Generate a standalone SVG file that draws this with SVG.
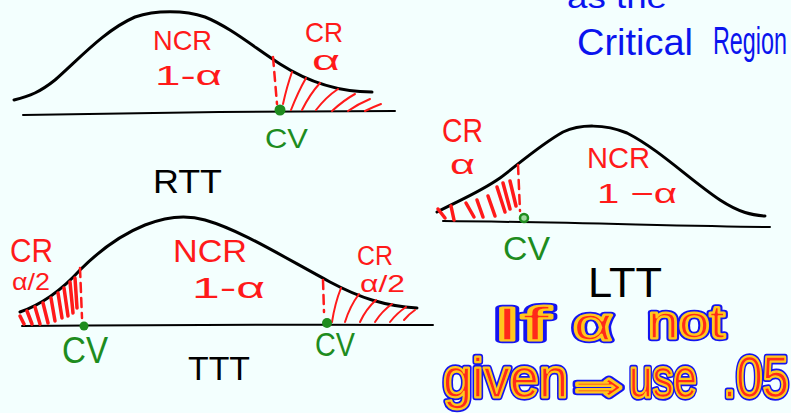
<svg xmlns="http://www.w3.org/2000/svg" width="791" height="413" viewBox="0 0 791 413">
<style>
.bg{fill:#F3FFFE}
.curve{fill:none;stroke:#000;stroke-width:3;stroke-linecap:round;stroke-linejoin:round}
.base{fill:none;stroke:#000;stroke-width:2;stroke-linecap:round}
.hatch{fill:none;stroke:#FF1A1A;stroke-width:2;stroke-linecap:round}
.hatchT{fill:none;stroke:#FF1A1A;stroke-width:3.5;stroke-linecap:round}
.dash{fill:none;stroke:#FF1A1A;stroke-width:2.5;stroke-dasharray:9 6;stroke-linecap:round}
.dot{fill:#1E8C1E}
.t{font-family:"Liberation Sans","DejaVu Sans",sans-serif}
.red{fill:#FF1A1A}
.grn{fill:#1E8C1E}
.blk{fill:#000}
.blue{fill:#0A14EE}
.f1{fill:#1414F0;stroke:#1414F0;stroke-width:6.5;stroke-linejoin:round}
.f2{fill:#FFC81E;stroke:#FFC81E;stroke-width:3;stroke-linejoin:round}
.f3{fill:#FF2A1A;stroke:#FFC81E;stroke-width:1.6;stroke-linejoin:round}
</style>
<rect class="bg" x="0" y="0" width="791" height="413"/>

<g id="title">
<text class="t blue" x="567" y="8" font-size="32" textLength="100" lengthAdjust="spacingAndGlyphs">as the</text>
<text class="t blue" x="577" y="55" font-size="36" textLength="116" lengthAdjust="spacingAndGlyphs">Critical</text>
<text class="t blue" x="713" y="54" font-size="38" textLength="74" lengthAdjust="spacingAndGlyphs">Region</text>
</g>

<g id="rtt">
<path class="curve" d="M14,100 C30,96 40,92 55,80 C80,58 105,30 135,17 C155,10 185,10 205,17 C230,27 255,48 280,64 C305,80 335,92 372,92"/>
<path class="base" d="M23,115 C100,113 300,111 395,111"/>
<g>
<path class="hatch" d="M283,104 Q287,86 292,72"/>
<path class="hatch" d="M291,110 Q298,92 306,78"/>
<path class="hatch" d="M302,110 Q310,94 320,83"/>
<path class="hatch" d="M316,110 Q326,97 338,89"/>
<path class="hatch" d="M332,111 Q344,100 355,94"/>
<path class="hatch" d="M348,111 Q358,104 370,99"/>
<path class="hatch" d="M365,111 Q373,107 381,104"/>
</g>
<path class="dash" d="M273,57 L277,104"/>
<circle class="dot" cx="280" cy="110" r="5.5"/>
<text class="t red" x="153" y="50" font-size="28" textLength="59" lengthAdjust="spacingAndGlyphs">NCR</text>
<text class="t red" x="155" y="85" font-size="28" textLength="67" lengthAdjust="spacingAndGlyphs">1-α</text>
<text class="t red" x="305" y="42" font-size="28" textLength="38" lengthAdjust="spacingAndGlyphs">CR</text>
<text class="t red" x="312" y="70" font-size="28" textLength="28" lengthAdjust="spacingAndGlyphs">α</text>
<text class="t grn" x="265" y="148" font-size="28" textLength="43" lengthAdjust="spacingAndGlyphs">CV</text>
<text class="t blk" x="153" y="193" font-size="34" textLength="69" lengthAdjust="spacingAndGlyphs">RTT</text>
</g>

<g id="ttt">
<path class="curve" d="M20,312 C40,305 60,292 80,270 C100,250 120,235 145,225 C165,217 185,214 205,220 C240,230 280,255 330,282 C360,298 385,306 417,308"/>
<path class="base" d="M22,326 C150,325 300,324 433,325"/>
<g>
<path class="hatchT" d="M20,316 L24,324"/>
<path class="hatchT" d="M27,311 L32,324"/>
<path class="hatchT" d="M35,307 L40,324"/>
<path class="hatchT" d="M43,303 L48,323"/>
<path class="hatchT" d="M51,298 L55,321"/>
<path class="hatchT" d="M58,293 L62,318"/>
<path class="hatchT" d="M64,288 L68,316"/>
<path class="hatchT" d="M70,282 L73,313"/>
<path class="hatchT" d="M75,278 L77,308"/>
<path class="hatch" d="M332,322 Q335,303 341,288"/>
<path class="hatch" d="M345,322 Q350,306 359,294"/>
<path class="hatch" d="M360,322 Q366,309 376,300"/>
<path class="hatch" d="M375,322 Q382,311 392,304"/>
<path class="hatch" d="M390,322 Q397,313 406,307"/>
<path class="hatch" d="M404,320 Q409,314 415,310"/>
</g>
<path class="dash" d="M80,268 L82,318"/>
<path class="dash" d="M323,280 L324,312"/>
<circle class="dot" cx="84" cy="326" r="4.5"/>
<circle class="dot" cx="327" cy="323" r="5"/>
<text class="t red" x="10" y="262" font-size="33" textLength="43" lengthAdjust="spacingAndGlyphs">CR</text>
<text class="t red" x="12" y="290" font-size="24" textLength="38" lengthAdjust="spacingAndGlyphs">α/2</text>
<text class="t red" x="173" y="262" font-size="32" textLength="74" lengthAdjust="spacingAndGlyphs">NCR</text>
<text class="t red" x="192" y="298" font-size="30" textLength="73" lengthAdjust="spacingAndGlyphs">1-α</text>
<text class="t red" x="357" y="265" font-size="27" textLength="36" lengthAdjust="spacingAndGlyphs">CR</text>
<text class="t red" x="360" y="292" font-size="24" textLength="45" lengthAdjust="spacingAndGlyphs">α/2</text>
<text class="t grn" x="62" y="363" font-size="36" textLength="46" lengthAdjust="spacingAndGlyphs">CV</text>
<text class="t grn" x="315" y="356" font-size="34" textLength="40" lengthAdjust="spacingAndGlyphs">CV</text>
<text class="t blk" x="188" y="380" font-size="34" textLength="62" lengthAdjust="spacingAndGlyphs">TTT</text>
</g>

<g id="ltt">
<path class="curve" d="M437,212 C460,200 480,192 500,178 C520,163 540,145 563,132 C580,124 605,124 627,133 C660,150 690,180 720,200 C740,213 752,215 765,216"/>
<path class="base" d="M443,221 C560,222 680,226 770,227"/>
<g>
<path class="hatchT" d="M438,209 L445,218"/>
<path class="hatchT" d="M451,206 L454,220"/>
<path class="hatchT" d="M466,203 L474,217"/>
<path class="hatchT" d="M477,200 L483,217"/>
<path class="hatchT" d="M488,196 L495,216"/>
<path class="hatchT" d="M497,187 L505,212"/>
<path class="hatchT" d="M503,183 L510,209"/>
<path class="hatchT" d="M510,181 L516,206"/>
</g>
<path class="dash" d="M518,165 L520,211"/>
<circle cx="524" cy="218" r="4" fill="#9FD89F" stroke="#1E8C1E" stroke-width="2.5"/>
<text class="t red" x="442" y="142" font-size="33" textLength="41" lengthAdjust="spacingAndGlyphs">CR</text>
<text class="t red" x="450" y="174" font-size="28" textLength="25" lengthAdjust="spacingAndGlyphs">α</text>
<text class="t red" x="587" y="168" font-size="30" textLength="63" lengthAdjust="spacingAndGlyphs">NCR</text>
<text class="t red" x="597" y="203" font-size="28" textLength="80" lengthAdjust="spacingAndGlyphs">1 −α</text>
<text class="t grn" x="503" y="260" font-size="34" textLength="47" lengthAdjust="spacingAndGlyphs">CV</text>
<text class="t blk" x="588" y="297" font-size="42" textLength="74" lengthAdjust="spacingAndGlyphs">LTT</text>
</g>

<g id="note">
<g class="t" font-size="46">
<text class="f1" x="493" y="340" textLength="57" lengthAdjust="spacingAndGlyphs">If</text>
<text class="f2" x="493" y="340" textLength="57" lengthAdjust="spacingAndGlyphs">If</text>
<text class="f3" x="493" y="340" textLength="57" lengthAdjust="spacingAndGlyphs">If</text>
<text class="f1" x="573" y="340" textLength="40" lengthAdjust="spacingAndGlyphs">α</text>
<text class="f2" x="573" y="340" textLength="40" lengthAdjust="spacingAndGlyphs">α</text>
<text class="f3" x="573" y="340" textLength="40" lengthAdjust="spacingAndGlyphs">α</text>
<text class="f1" x="648" y="338" textLength="77" lengthAdjust="spacingAndGlyphs">not</text>
<text class="f2" x="648" y="338" textLength="77" lengthAdjust="spacingAndGlyphs">not</text>
<text class="f3" x="648" y="338" textLength="77" lengthAdjust="spacingAndGlyphs">not</text>
</g>
<g class="t" font-size="56">
<text class="f1" x="443" y="397" textLength="125" lengthAdjust="spacingAndGlyphs">given</text>
<text class="f2" x="443" y="397" textLength="125" lengthAdjust="spacingAndGlyphs">given</text>
<text class="f3" x="443" y="397" textLength="125" lengthAdjust="spacingAndGlyphs">given</text>
<text class="f1" x="574" y="400" font-family="DejaVu Sans" font-size="40" textLength="49" lengthAdjust="spacingAndGlyphs">⇒</text>
<text class="f2" x="574" y="400" font-family="DejaVu Sans" font-size="40" textLength="49" lengthAdjust="spacingAndGlyphs">⇒</text>
<text class="f3" x="574" y="400" font-family="DejaVu Sans" font-size="40" textLength="49" lengthAdjust="spacingAndGlyphs">⇒</text>
<text class="f1" x="629" y="397" textLength="68" lengthAdjust="spacingAndGlyphs">use</text>
<text class="f2" x="629" y="397" textLength="68" lengthAdjust="spacingAndGlyphs">use</text>
<text class="f3" x="629" y="397" textLength="68" lengthAdjust="spacingAndGlyphs">use</text>
<text class="f1" x="723" y="397" font-size="58" textLength="66" lengthAdjust="spacingAndGlyphs">.05</text>
<text class="f2" x="723" y="397" font-size="58" textLength="66" lengthAdjust="spacingAndGlyphs">.05</text>
<text class="f3" x="723" y="397" font-size="58" textLength="66" lengthAdjust="spacingAndGlyphs">.05</text>
</g>
</g>
</svg>
